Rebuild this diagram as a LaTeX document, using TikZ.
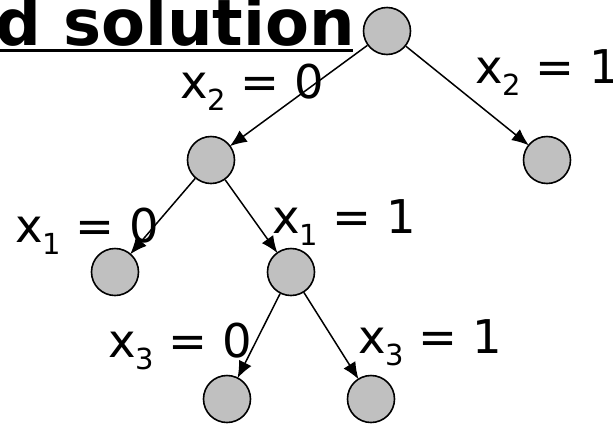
\documentclass[tikz,border=0pt]{standalone}
\usepackage{fontspec}
\setmainfont{DejaVu Sans}
\usepackage{tikz}
\usetikzlibrary{arrows.meta,positioning}
\definecolor{NodeGray}{HTML}{C0C0C0}
\newcommand{\lowsub}[1]{\raisebox{-0.27em}{\fontsize{29}{29}\selectfont #1}}
\tikzset{
  statenode/.style={circle,draw=black,fill=NodeGray,line width=1.6pt,minimum size=47pt,inner sep=0pt},
  branch/.style={-{Latex[length=17pt,width=14pt]},line width=1.5pt,draw=black,shorten >=-1pt},
  branchlabel/.style={anchor=base west,inner sep=0pt,font=\fontsize{46.5}{46.5}\selectfont},
  titlenode/.style={anchor=base west,inner sep=0pt,font=\fontsize{64}{64}\selectfont\bfseries}
}
\begin{document}
\begin{tikzpicture}[x=1pt,y=-1pt]
\useasboundingbox[fill=white] (0,0) rectangle (613,424);
% title, cut at the left
\node[titlenode] (title) at (-5,45) {d solution};
\draw[line width=3pt] ([yshift=-5pt]title.base west) -- ([yshift=-5pt,xshift=-2pt]title.base east);
% tree
\node[statenode] (root) at (387,31) {};
\node[statenode] (a0) at (211,160) {};
\node[statenode] (a1) at (547,160) {};
\node[statenode] (b0) at (115,272) {};
\node[statenode] (b1) at (291,272) {};
\node[statenode] (c0) at (227,399) {};
\node[statenode] (c1) at (371,399) {};
\draw[branch] (root) -- (a0);
\draw[branch] (root) -- (a1);
\draw[branch] (a0) -- (b0);
\draw[branch] (a0) -- (b1);
\draw[branch] (b1) -- (c0);
\draw[branch] (b1) -- (c1);
% branch labels
\node[branchlabel] (la0) at (180,98) {x\lowsub{2} = 0};
\node[branchlabel] (la1) at (475,83) {x\lowsub{2} = 1};
\node[branchlabel] (lb0) at (15,242) {x\lowsub{1} = 0};
\node[branchlabel] (lb1) at (272,233) {x\lowsub{1} = 1};
\node[branchlabel] (lc0) at (108,357) {x\lowsub{3} = 0};
\node[branchlabel] (lc1) at (358,353) {x\lowsub{3} = 1};
\end{tikzpicture}
\end{document}
